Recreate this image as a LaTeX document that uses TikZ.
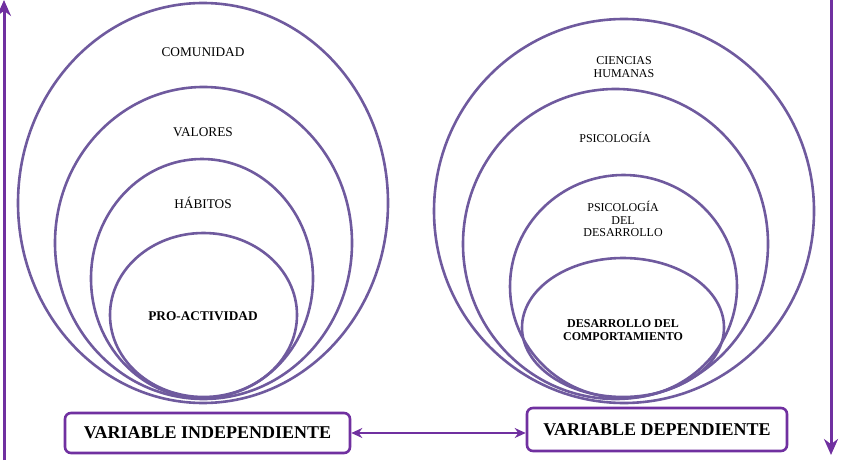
\documentclass[tikz,border=0pt]{standalone}
\usepackage{fontspec}
\setmainfont{Liberation Serif}
\usetikzlibrary{arrows.meta,positioning,shapes.geometric}
\definecolor{ringline}{HTML}{6F5A9E}
\definecolor{varpurple}{HTML}{7030A0}

\begin{document}
\begin{tikzpicture}[x=1pt, y=-1pt,
  ring/.style={draw=ringline, line width=2.6pt, ellipse, inner sep=0pt},
  lefttext/.style={font=\fontsize{13.3}{15}\selectfont, align=center},
  righttext/.style={font=\fontsize{12}{12.4}\selectfont, align=center},
  varbox/.style={draw=varpurple, line width=2.6pt, rounded corners=6pt, fill=white,
    font=\fontsize{18}{20}\selectfont\bfseries},
  vline/.style={draw=varpurple, line width=3pt}]
  \useasboundingbox (0,0) rectangle (842,465);

  \node[ring, minimum width=370pt, minimum height=400pt] (L1) at (203,203) {};
  \node[ring, minimum width=297pt, minimum height=312pt] (L2) at (203.5,243) {};
  \node[ring, minimum width=222pt, minimum height=239pt] (L3) at (202,278.5) {};
  \node[ring, minimum width=187pt, minimum height=164pt] (L4) at (203.5,315) {};

  \node[lefttext] (comunidad) at (203,52) {COMUNIDAD};
  \node[lefttext] (valores) at (203,132) {VALORES};
  \node[lefttext] (habitos) at (203,203) {HÁBITOS};
  \node[lefttext, font=\fontsize{13.3}{15}\selectfont\bfseries] (proactividad) at (203,316) {PRO-ACTIVIDAD};

  \node[ring, minimum width=380pt, minimum height=384pt] (R1) at (624,211) {};
  \node[ring, minimum width=305pt, minimum height=310pt] (R2) at (615.5,244) {};
  \node[ring, minimum width=227pt, minimum height=223pt] (R3) at (623.5,286.5) {};
  \node[ring, minimum width=202pt, minimum height=139pt] (R4) at (623,327.5) {};

  \node[righttext] (ciencias) at (624,67) {CIENCIAS\\HUMANAS};
  \node[righttext] (psicologia) at (615,137) {PSICOLOGÍA};
  \node[righttext] (psicodes) at (623,219) {PSICOLOGÍA\\DEL\\DESARROLLO};
  \node[righttext, font=\fontsize{12}{12.4}\selectfont\bfseries] (comportamiento) at (623,330)
    {DESARROLLO DEL\\COMPORTAMIENTO};

  \node[varbox, minimum width=285pt, minimum height=40pt] (VI) at (207.5,433) {VARIABLE INDEPENDIENTE};
  \node[varbox, minimum width=260pt, minimum height=43pt] (VD) at (657,429.5) {VARIABLE DEPENDIENTE};

  \draw[vline, line width=2pt, {Stealth[length=11pt,width=10pt]}-{Stealth[length=11pt,width=10pt]}]
    (VI.east) -- (VI.east -| VD.west);

  \coordinate (leftbottom) at (4,460);
  \coordinate (lefttop) at (4,0);
  \coordinate (righttop) at (831,0);
  \coordinate (rightbottom) at (831,455);
  \draw[vline, -{Stealth[length=16pt,width=14pt]}] (leftbottom) -- (lefttop);
  \draw[vline, -{Stealth[length=16pt,width=14pt]}] (righttop) -- (rightbottom);
\end{tikzpicture}
\end{document}
